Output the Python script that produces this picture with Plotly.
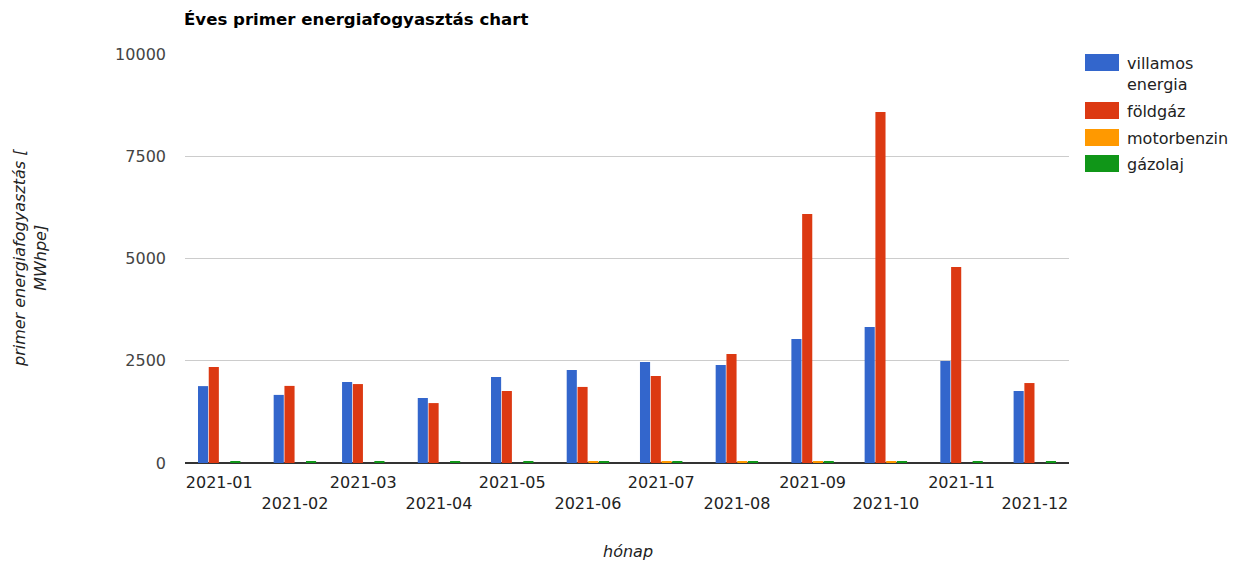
import plotly.graph_objects as go

months = ["2021-01", "2021-02", "2021-03", "2021-04", "2021-05", "2021-06",
          "2021-07", "2021-08", "2021-09", "2021-10", "2021-11", "2021-12"]
villamos_energia = [1880, 1665, 1980, 1590, 2100, 2275, 2470, 2395, 3030, 3325, 2495, 1760]
foldgaz = [2345, 1885, 1930, 1465, 1760, 1860, 2130, 2665, 6090, 8580, 4790, 1955]
motorbenzin = [0, 0, 0, 0, 0, 25, 25, 25, 25, 25, 0, 0]
gazolaj = [35, 35, 35, 35, 35, 35, 35, 35, 35, 35, 35, 35]
y_ticks = [0, 2500, 5000, 7500, 10000]

series = [
    ("villamos<br>energia", villamos_energia, "#3366cc"),
    ("földgáz", foldgaz, "#dc3912"),
    ("motorbenzin", motorbenzin, "#ff9900"),
    ("gázolaj", gazolaj, "#109618"),
]

tick_text = [m if i % 2 == 0 else "<br>" + m for i, m in enumerate(months)]

# page offset (body margin) and plot box in absolute page pixels
OFF = 8
W, H = 1239 - OFF, 562 - OFF
PL, PR, PT, PB = 185, 1069, 54, 463


def px(xa):
    return (xa - PL) / (PR - PL)


def py(ya):
    return (PB - ya) / (PB - PT)


fig = go.Figure()
for name, vals, color in series:
    fig.add_trace(go.Bar(x=months, y=vals, name=name, marker_color=color,
                         marker_line_width=0, showlegend=False))

font = "DejaVu Sans"
shapes = []
annotations = []
# custom legend
swatch_rows = [(54, 71, 63), (102, 119, 110), (129, 146, 137), (155, 172, 164)]
for (name, _, color), (y0, y1, yt) in zip(series, swatch_rows):
    shapes.append(dict(type="rect", xref="paper", yref="paper",
                       x0=px(1085), x1=px(1119), y0=py(y1), y1=py(y0),
                       fillcolor=color, line_width=0))
    annotations.append(dict(text=name, xref="paper", yref="paper",
                            x=px(1125), y=py(y0 - 2), xanchor="left", yanchor="top",
                            showarrow=False, align="left",
                            font=dict(family=font, size=16, color="#222222")))

annotations.append(dict(text="<i>primer energiafogyasztás [<br>MWhpe]</i>",
                        xref="paper", yref="paper", x=px(30), y=py(258),
                        xanchor="center", yanchor="middle", textangle=-90,
                        showarrow=False, align="center",
                        font=dict(family=font, size=16, color="#222222")))
annotations.append(dict(text="<i>hónap</i>", xref="paper", yref="paper",
                        x=px(628), y=py(551), xanchor="center", yanchor="middle",
                        showarrow=False,
                        font=dict(family=font, size=16, color="#222222")))

fig.update_layout(
    width=W, height=H,
    margin=dict(l=PL - OFF, r=W + OFF - PR, t=PT - OFF, b=H + OFF - PB),
    plot_bgcolor="white", paper_bgcolor="white",
    barmode="group", bargap=0.37, bargroupgap=0.06,
    font=dict(family=font, size=16, color="#444444"),
    showlegend=False,
    title=dict(text="<b>Éves primer energiafogyasztás chart</b>",
               x=(184 - OFF) / W, xanchor="left", y=1 - (19 - OFF) / H, yanchor="middle",
               font=dict(family=font, size=16.6, color="#000000")),
    shapes=shapes,
    annotations=annotations,
    xaxis=dict(tickmode="array", tickvals=months, ticktext=tick_text,
               tickangle=0, automargin=False, ticklabelstandoff=8,
               showgrid=False, showline=False, ticks="",
               tickfont=dict(family=font, size=16, color="#222222")),
    yaxis=dict(range=[0, 10000], tickvals=y_ticks,
               ticktext=[str(v) for v in y_ticks], automargin=False,
               showgrid=True, gridcolor="#cccccc", gridwidth=1,
               zeroline=True, zerolinecolor="#333333", zerolinewidth=2,
               showline=False, ticks="", ticklen=0, ticklabelstandoff=18,
               tickfont=dict(family=font, size=16, color="#444444")),
)

fig.write_html("out.html")
